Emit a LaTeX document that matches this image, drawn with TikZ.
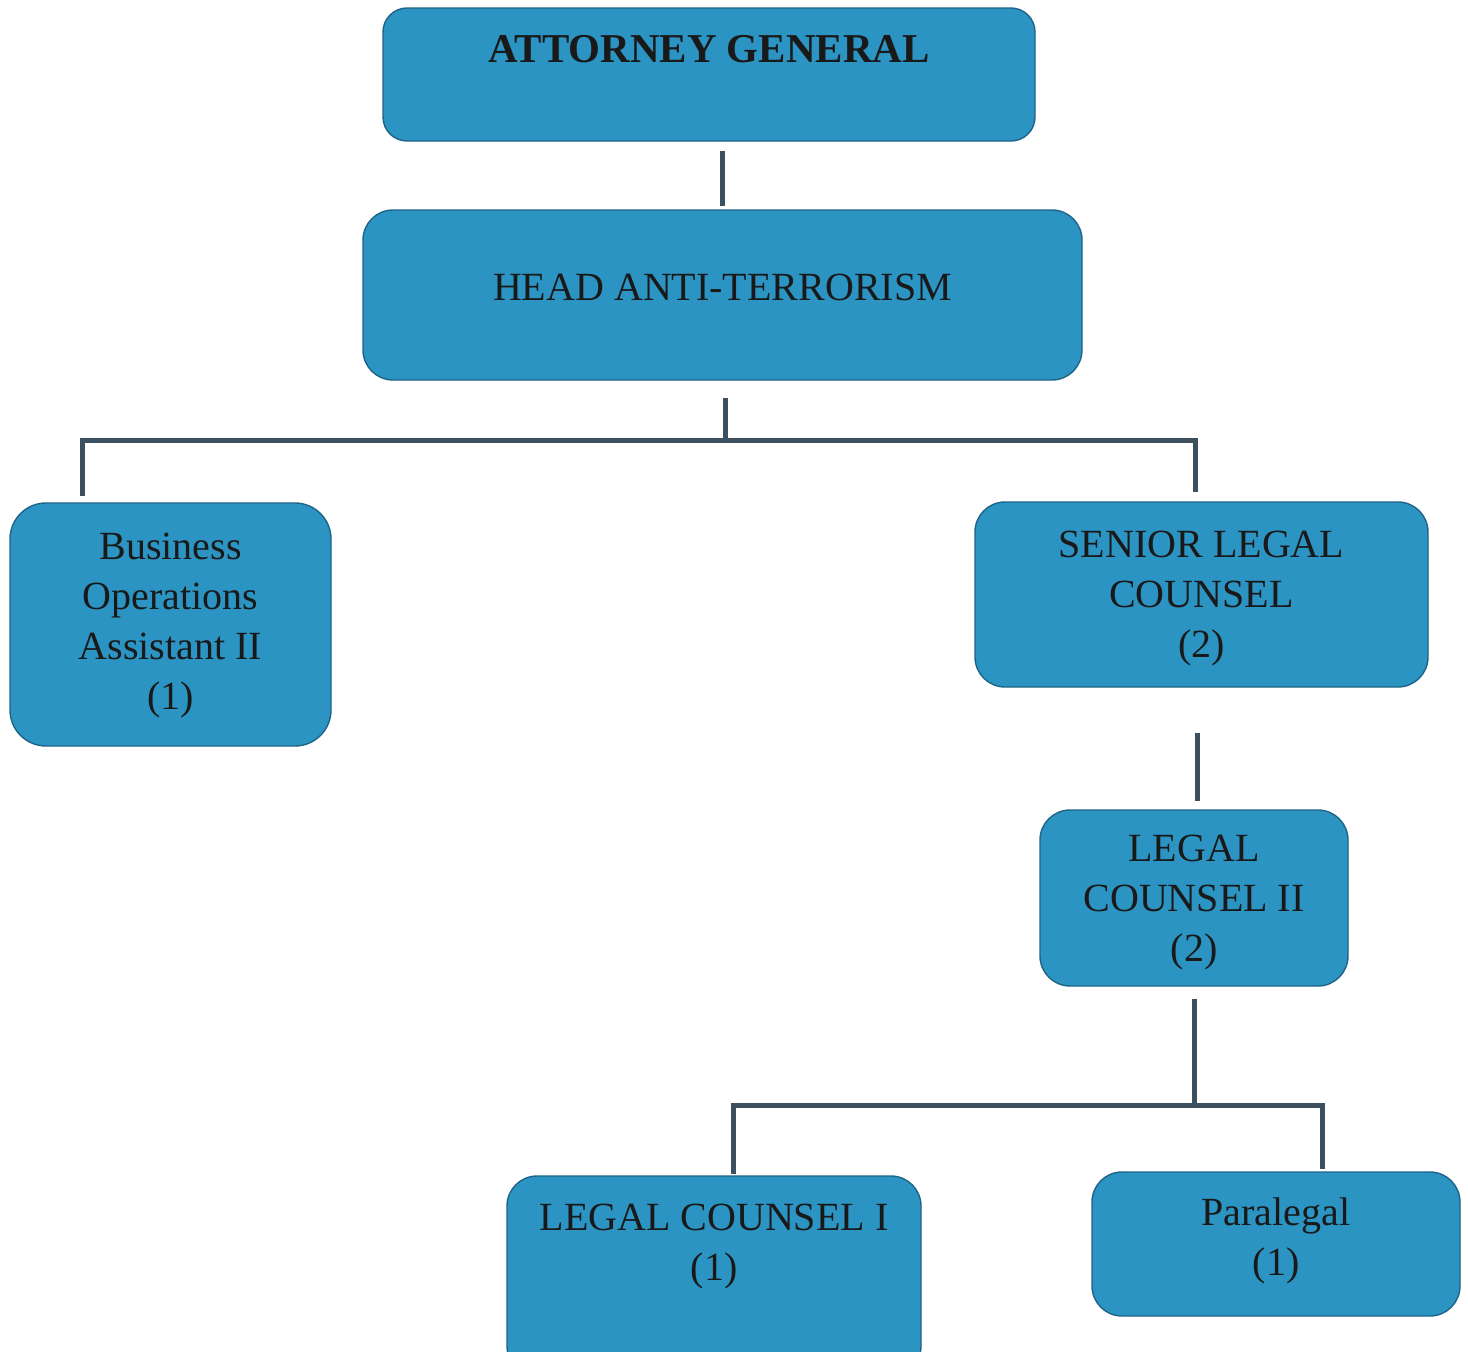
\documentclass[tikz,border=0pt]{standalone}
\usepackage{fontspec}
\setmainfont{Liberation Serif}
\begin{document}
\begin{tikzpicture}[x=1pt,y=-1pt,
  box/.style={draw=boxedge, line width=1.4pt, fill=boxfill, rounded corners=30pt, inner sep=0pt},
  txt/.style={align=center, text=txtcol, font=\fontsize{40}{50}\selectfont, inner sep=0pt},
  conn/.style={draw=conncol, line width=5pt, line join=miter}]
\definecolor{boxfill}{RGB}{44,148,194}
\definecolor{boxedge}{RGB}{30,100,135}
\definecolor{conncol}{RGB}{60,80,95}
\definecolor{txtcol}{RGB}{25,25,25}
\useasboundingbox (0,0) rectangle (1468,1352);
\clip (0,0) rectangle (1468,1352);
% boxes
\node[box, minimum width=652, minimum height=133, rounded corners=24pt] (ag) at (709,74.5) {};
\node[box, minimum width=719, minimum height=170] (head) at (722.5,295) {};
\node[box, minimum width=321, minimum height=243, rounded corners=36pt] (bus) at (170.5,624.5) {};
\node[box, minimum width=453, minimum height=185] (sen) at (1201.5,594.5) {};
\node[box, minimum width=308, minimum height=176] (lc2) at (1194,898) {};
\node[box, minimum width=414, minimum height=200] (lc1) at (714,1276) {};
\node[box, minimum width=368, minimum height=144] (para) at (1276,1244) {};
% texts
\node[txt, font=\fontsize{41}{50}\selectfont\bfseries] (agt) at (709,49) {ATTORNEY GENERAL};
\node[txt] (headt) at (722.5,287) {HEAD ANTI-TERRORISM};
\node[txt] (bust) at (170.5,626) {Business\\Operations\\Assistant II\\(1)};
\node[txt] (sent) at (1201.5,598.5) {SENIOR LEGAL\\COUNSEL\\(2)};
\node[txt] (lc2t) at (1194,903) {LEGAL\\COUNSEL II\\(2)};
\node[txt] (lc1t) at (714,1247) {LEGAL COUNSEL I\\(1)};
\node[txt] (parat) at (1276,1241) {Paralegal\\(1)};
% junction coordinates
\coordinate (j0) at (722,180);
\coordinate (j1) at (725,440);
\coordinate (jl) at (82,440);
\coordinate (jr) at (1195,440);
\coordinate (j2) at (1197,760);
\coordinate (j3) at (1194,1105);
\coordinate (jl2) at (733,1105);
\coordinate (jr2) at (1322,1105);
% connectors
\draw[conn, shorten <=9pt, shorten >=3pt] (j0 |- ag.south) -- (j0 |- head.north);
\draw[conn, shorten <=17pt] (j1 |- head.south) -- (j1);
\draw[conn, shorten <=6pt, shorten >=9pt] (jl |- bus.north) -- (jl) -- (jr) -- (jr |- sen.north);
\draw[conn, shorten <=45pt, shorten >=8pt] (j2 |- sen.south) -- (j2 |- lc2.north);
\draw[conn, shorten <=12pt] (j3 |- lc2.south) -- (j3);
\draw[conn, shorten <=1pt, shorten >=2pt] (jl2 |- lc1.north) -- (jl2) -- (jr2) -- (jr2 |- para.north);
\end{tikzpicture}
\end{document}
